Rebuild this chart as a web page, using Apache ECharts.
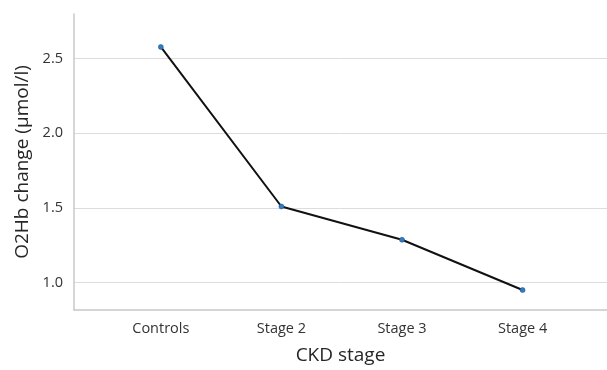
<!DOCTYPE html>
<html>
<head>
<meta charset="utf-8">
<script src="https://cdn.jsdelivr.net/npm/echarts@6/dist/echarts.min.js"></script>
<style>html,body{margin:0;padding:0;background:#fff;}#c{width:607px;height:370px;}</style>
</head>
<body>
<div id="c"></div>
<script>
const categories = ["Controls", "Stage 2", "Stage 3", "Stage 4"];
const values = [2.579, 1.509, 1.286, 0.949];
const yTicks = [1.0, 1.5, 2.0, 2.5];
const xTitle = "CKD stage";
const yTitle = "O2Hb change (µmol/l)";

const FONT = "'Open Sans', 'Noto Sans', sans-serif";
const chart = echarts.init(document.getElementById('c'), null, {renderer: 'canvas'});
chart.setOption({
  animation: false,
  grid: {left: 74, right: 0, top: 14, bottom: 57, containLabel: false},
  xAxis: {
    type: 'value', min: -0.72, max: 3.7,
    name: xTitle, nameLocation: 'middle', nameGap: 36,
    nameTextStyle: {fontFamily: FONT, fontSize: 19, color: '#262626'},
    axisLine: {show: true, onZero: false, lineStyle: {color: '#c8c8c8', width: 1.5}},
    axisTick: {show: false, customValues: [0,1,2,3]},
    splitLine: {show: false},
    axisLabel: {
      customValues: [0,1,2,3], margin: 11,
      fontFamily: FONT, fontSize: 14.5, color: '#333',
      formatter: v => categories[Math.round(v)] || ''
    }
  },
  yAxis: {
    type: 'value', min: 0.815, max: 2.8,
    name: yTitle, nameLocation: 'middle', nameGap: 42,
    nameTextStyle: {fontFamily: FONT, fontSize: 19, color: '#262626'},
    axisLine: {show: true, onZero: false, lineStyle: {color: '#c8c8c8', width: 1.5}},
    axisTick: {show: false, customValues: yTicks},
    splitLine: {show: true, lineStyle: {color: '#dcdcdc', width: 1}},
    axisLabel: {
      customValues: yTicks, margin: 11,
      fontFamily: FONT, fontSize: 14.5, color: '#333',
      formatter: v => v.toFixed(1)
    }
  },
  series: [{
    type: 'line',
    data: values.map((v, i) => [i, v]),
    lineStyle: {color: '#111', width: 2},
    symbol: 'circle', symbolSize: 5,
    itemStyle: {color: '#2f7bc4', borderColor: '#1f4f85', borderWidth: 0.5},
    z: 5
  }]
});
</script>
</body>
</html>
